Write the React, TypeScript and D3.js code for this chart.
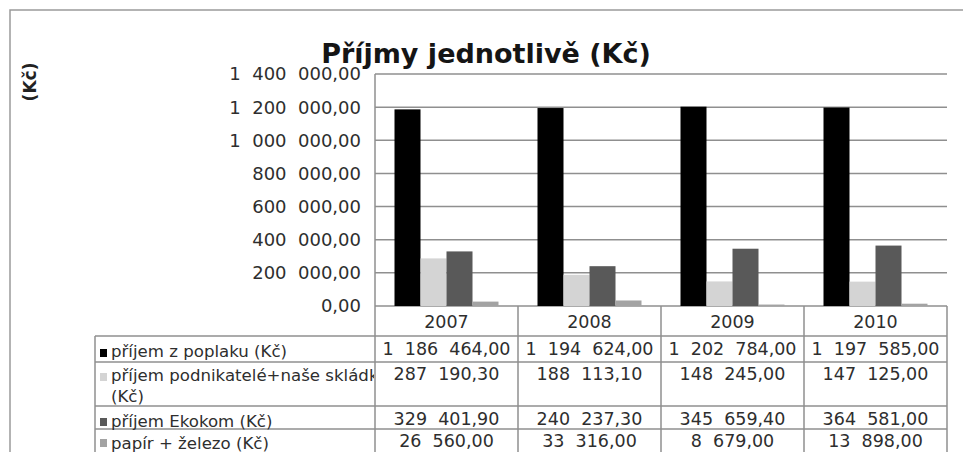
import React, { useEffect, useRef } from 'react';
import * as d3 from 'd3';

const years = ['2007', '2008', '2009', '2010'];
const seriesNames = [
  'příjem z poplaku (Kč)',
  'příjem podnikatelé+naše skládky (Kč)',
  'příjem Ekokom (Kč)',
  'papír + železo (Kč)',
];
const poplatek = [1186464.0, 1194624.0, 1202784.0, 1197585.0];
const podnikatele = [287190.3, 188113.1, 148245.0, 147125.0];
const ekokom = [329401.9, 240237.3, 345659.4, 364581.0];
const papir = [26560.0, 33316.0, 8679.0, 13898.0];
const yTicks = [0, 200000, 400000, 600000, 800000, 1000000, 1200000, 1400000];
const colors = ['#000000', '#d4d4d4', '#595959', '#a3a3a3'];

const W = 963;
const H = 452;

const App = () => {
  const ref = useRef<SVGSVGElement>(null);

  useEffect(() => {
    const svg = d3.select(ref.current);
    svg.selectAll('*').remove();

    const series = [poplatek, podnikatele, ekokom, papir];
    const font = 'DejaVu Sans, sans-serif';
    const grid = '#8f8f8f';
    const ink = '#2e2e2e';
    const cz = d3.formatLocale({
      decimal: ',',
      thousands: '\u00a0\u00a0',
      grouping: [3],
      currency: ['', ''],
    });
    const fmt = cz.format(',.2f');

    const left = 375, right = 947, top = 74, bottom = 306;
    const x = d3.scaleBand().domain(years).range([left, right]).padding(0);
    const xs = d3.scaleBand<number>()
      .domain(d3.range(series.length))
      .range([0, x.bandwidth()])
      .paddingInner(0)
      .paddingOuter(0.75);
    const y = d3.scaleLinear().domain([0, 1400000]).range([bottom, top]);

    // outer frame
    svg.append('path')
      .attr('d', `M10,${H} L10,10 L${W},10`)
      .attr('fill', 'none')
      .attr('stroke', '#9a9a9a')
      .attr('stroke-width', 1.5);

    // title
    svg.append('text')
      .attr('x', 486).attr('y', 63)
      .attr('text-anchor', 'middle')
      .attr('font-family', font)
      .attr('font-size', 27)
      .attr('font-weight', 'bold')
      .attr('fill', '#151515')
      .text('Příjmy jednotlivě (Kč)');

    // axis title
    svg.append('text')
      .attr('transform', 'translate(36,82) rotate(-90)')
      .attr('text-anchor', 'middle')
      .attr('font-family', font)
      .attr('font-size', 17)
      .attr('font-weight', 'bold')
      .attr('fill', '#222')
      .text('(Kč)');

    // gridlines
    svg.append('g')
      .selectAll('line')
      .data(yTicks)
      .enter()
      .append('line')
      .attr('x1', left).attr('x2', right)
      .attr('y1', d => y(d)).attr('y2', d => y(d))
      .attr('stroke', grid)
      .attr('stroke-width', 1.5);

    // y labels
    svg.append('g')
      .selectAll('text')
      .data(yTicks)
      .enter()
      .append('text')
      .attr('x', 361)
      .attr('y', d => y(d))
      .attr('dy', '0.36em')
      .attr('text-anchor', 'end')
      .attr('font-family', font)
      .attr('font-size', 18)
      .attr('fill', ink)
      .text(d => fmt(d));

    // bars
    const groups = svg.append('g')
      .selectAll('g')
      .data(years)
      .enter()
      .append('g')
      .attr('transform', d => `translate(${x(d)},0)`);

    groups.selectAll('rect')
      .data((d, i) => series.map((s, k) => ({ k, v: s[i] })))
      .enter()
      .append('rect')
      .attr('x', d => xs(d.k)!)
      .attr('width', xs.bandwidth())
      .attr('y', d => y(d.v))
      .attr('height', d => bottom - y(d.v))
      .attr('fill', d => colors[d.k]);

    // data table
    const rowLines = [336, 362, 406, 429];
    const tbl = svg.append('g');
    tbl.append('line')
      .attr('x1', left).attr('x2', left).attr('y1', top).attr('y2', H)
      .attr('stroke', grid).attr('stroke-width', 1.5);
    tbl.selectAll('line.v')
      .data(years)
      .enter()
      .append('line')
      .attr('x1', d => x(d)! + x.bandwidth())
      .attr('x2', d => x(d)! + x.bandwidth())
      .attr('y1', bottom).attr('y2', H)
      .attr('stroke', grid).attr('stroke-width', 1.5);
    tbl.append('line')
      .attr('x1', 95).attr('x2', 95).attr('y1', rowLines[0]).attr('y2', H)
      .attr('stroke', grid).attr('stroke-width', 1.5);
    tbl.selectAll('line.h')
      .data(rowLines)
      .enter()
      .append('line')
      .attr('x1', 95).attr('x2', right)
      .attr('y1', d => d).attr('y2', d => d)
      .attr('stroke', grid).attr('stroke-width', 1.5);

    // header years
    tbl.selectAll('text.yr')
      .data(years)
      .enter()
      .append('text')
      .attr('x', d => x(d)! + x.bandwidth() / 2)
      .attr('y', 328)
      .attr('text-anchor', 'middle')
      .attr('font-family', font)
      .attr('font-size', 17.5)
      .attr('fill', ink)
      .text(d => d);

    // rows
    const baselines = [355, 380, 425, 447];
    const markerY = [349, 373, 418, 439];

    svg.append('defs').append('clipPath')
      .attr('id', 'lblclip')
      .append('rect')
      .attr('x', 95).attr('y', 336).attr('width', left - 96).attr('height', 120);

    series.forEach((s, k) => {
      tbl.append('rect')
        .attr('x', 100).attr('y', markerY[k])
        .attr('width', 7).attr('height', 8)
        .attr('fill', colors[k]);

      const lbl = tbl.append('text')
        .attr('clip-path', 'url(#lblclip)')
        .attr('font-family', font)
        .attr('font-size', 16.6)
        .attr('fill', ink);
      if (k === 1) {
        lbl.append('tspan').attr('x', 111).attr('y', baselines[k] + 1)
          .text('příjem podnikatelé+naše skládky');
        lbl.append('tspan').attr('x', 111).attr('y', 402).text('(Kč)');
      } else {
        lbl.attr('x', 111).attr('y', baselines[k] + 2).text(seriesNames[k]);
      }

      tbl.selectAll(null)
        .data(s)
        .enter()
        .append('text')
        .attr('x', (d, i) => x(years[i])! + x.bandwidth() / 2)
        .attr('y', baselines[k])
        .attr('text-anchor', 'middle')
        .attr('font-family', font)
        .attr('font-size', 17.5)
        .attr('fill', ink)
        .text(d => fmt(d));
    });
  }, []);

  return (
    <svg
      ref={ref}
      width={W}
      height={H}
      style={{ position: 'absolute', left: 0, top: 0, background: '#fff' }}
    />
  );
};

export default App;
